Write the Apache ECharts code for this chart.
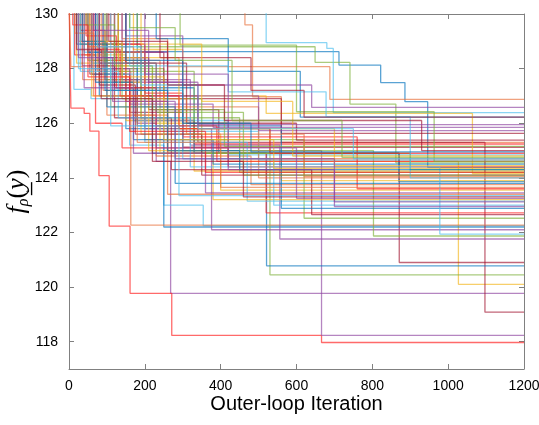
<!DOCTYPE html>
<html>
<head>
<meta charset="utf-8">
<script src="https://cdn.jsdelivr.net/npm/echarts@6/dist/echarts.min.js"></script>
<style>
  html, body { margin: 0; padding: 0; background: #fff; }
  #chart { width: 539px; height: 425px; }
</style>
</head>
<body>
<div id="chart"></div>
<script>
// Best objective value found so far, per restart, versus outer-loop iteration.
// Each run is a list of [iteration, value] change points; the value holds
// until the next change point. Values above 130 are off the top of the plot.

const xTicks = [0, 200, 400, 600, 800, 1000, 1200];
const yTicks = [118, 120, 122, 124, 126, 128, 130];

const redRuns = [
  [[0,130.6],[5,126.55],[40,126.36],[55,125.71],[79,124.08],[106,122.23],[161,119.77],[271,118.23],[666,117.97],[1200,117.97]],
  [[0,130.6],[30,129.4],[95,127.6],[180,126.1],[330,125.24],[1200,125.24]],
  [[0,130.6],[60,128.3],[150,126.8],[260,124.9],[520,122.72],[1200,122.72]],
  [[0,130.6],[15,128.5],[70,126.0],[140,125.1],[420,124.4],[1200,124.4]],
  [[0,130.6],[110,128.9],[200,127.1],[300,125.5],[760,123.6],[1200,123.6]],
  [[0,130.6],[45,129.2],[125,127.3],[230,125.9],[390,124.6],[1200,124.6]],
  [[0,130.6],[65,128.7],[135,127.0],[290,125.8],[530,124.9],[1200,124.9]],
  [[0,130.6],[10,129.6],[50,127.7],[160,125.7],[360,124.2],[1200,124.2]]
];

const darkRedRuns = [
  [[0,130.6],[90,128.4],[210,126.5],[395,124.9],[871,120.9],[1200,120.9]],
  [[0,130.6],[70,128.9],[190,127.0],[340,125.3],[1097,119.08],[1200,119.08]],
  [[0,130.6],[55,127.8],[160,126.4],[300,125.12],[1200,125.12]],
  [[0,130.6],[130,128.6],[250,126.9],[560,125.63],[1200,125.63]],
  [[0,130.6],[35,128.1],[120,126.2],[270,124.3],[640,122.65],[1200,122.65]],
  [[0,130.6],[80,127.4],[175,125.6],[350,124.1],[1200,124.1]],
  [[0,130.6],[150,128.2],[310,126.0],[600,125.38],[1200,125.38]],
  [[0,130.6],[240,128.4],[480,127.2],[620,126.22],[1200,126.22]],
  [[0,130.6],[105,129.0],[260,127.4],[410,126.1],[930,125.0],[1200,125.0]],
  [[0,130.6],[20,128.7],[85,126.9],[220,124.6],[460,123.3],[1200,123.3]]
];

const orangeRuns = [
  [[0,130.6],[140,129.1],[260,128.07],[688,126.87],[1200,126.87]],
  [[0,130.6],[464,129.6],[484,126.97],[560,125.3],[1200,125.3]],
  [[0,130.6],[5,128.07],[36,127.6],[100,126.3],[230,124.8],[480,123.75],[1200,123.75]],
  [[0,130.6],[75,127.9],[163,122.27],[1200,122.27]],
  [[0,130.6],[25,129.0],[90,127.2],[200,125.4],[420,124.7],[1200,124.7]],
  [[0,130.6],[120,128.3],[240,126.6],[500,124.0],[1200,124.0]],
  [[0,130.6],[50,128.8],[170,126.3],[260,123.4],[1200,123.4]],
  [[0,130.6],[85,128.6],[200,126.9],[310,125.6],[620,124.05],[1200,124.05]],
  [[0,130.6],[15,129.3],[65,127.0],[180,125.3],[400,123.65],[1200,123.65]]
];

const yellowRuns = [
  [[0,130.6],[100,128.1],[220,126.0],[420,124.6],[1027,120.1],[1200,120.1]],
  [[0,130.6],[40,128.5],[150,126.1],[330,124.25],[1200,124.25]],
  [[0,130.6],[80,127.5],[190,125.6],[400,123.55],[1200,123.55]],
  [[0,130.6],[170,128.7],[300,127.0],[520,126.36],[1064,124.16],[1200,124.16]],
  [[0,130.6],[20,128.2],[110,126.6],[240,124.9],[560,123.9],[1200,123.9]],
  [[0,130.6],[60,127.0],[210,125.0],[380,123.2],[1200,123.2]],
  [[0,130.6],[130,128.4],[290,125.8],[700,124.45],[1200,124.45]],
  [[0,130.6],[55,129.0],[140,127.7],[250,125.4],[540,124.35],[1200,124.35]],
  [[0,130.6],[190,128.9],[350,126.8],[590,124.8],[1200,124.8]]
];

const purpleRuns = [
  [[0,130.6],[90,128.0],[180,126.0],[230,124.6],[268,119.77],[1200,119.77]],
  [[0,130.6],[120,127.5],[300,125.0],[666,118.23],[1200,118.23]],
  [[0,130.6],[70,128.4],[200,125.8],[376,122.1],[1200,122.1]],
  [[0,130.6],[140,127.6],[320,125.2],[556,121.76],[1200,121.76]],
  [[0,130.6],[150,129.2],[300,127.4],[640,126.58],[1200,126.58]],
  [[0,130.6],[60,128.0],[160,126.7],[380,125.85],[1200,125.85]],
  [[0,130.6],[100,128.6],[260,127.0],[500,125.73],[1200,125.73]],
  [[0,130.6],[40,127.3],[170,124.9],[360,123.45],[1200,123.45]],
  [[0,130.6],[200,127.8],[420,124.3],[700,123.12],[1200,123.12]],
  [[0,130.6],[80,128.2],[230,125.1],[600,123.25],[1200,123.25]],
  [[0,130.6],[25,128.4],[115,126.8],[280,124.7],[700,122.95],[1200,122.95]],
  [[0,130.6],[65,129.4],[210,127.5],[340,125.95],[1200,125.95]]
];

const greenRuns = [
  [[0,130.6],[180,128.8],[649,128.23],[741,126.7],[862,124.55],[1200,124.55]],
  [[0,130.6],[80,128.0],[250,125.8],[530,120.45],[1200,120.45]],
  [[0,130.6],[100,127.6],[260,125.0],[803,121.87],[1200,121.87]],
  [[0,130.6],[50,128.3],[190,126.2],[450,124.2],[1200,124.2]],
  [[0,130.6],[130,127.9],[330,125.4],[620,122.52],[1200,122.52]],
  [[0,130.6],[30,128.9],[140,126.9],[350,124.9],[900,124.3],[1200,124.3]],
  [[0,130.6],[293,128.86],[600,126.42],[963,124.6],[1200,124.6]],
  [[0,130.6],[45,129.6],[120,128.1],[220,126.5],[410,125.15],[1200,125.15]],
  [[0,130.6],[95,128.2],[230,126.4],[460,124.1],[1200,124.1]],
  [[0,130.6],[160,129.5],[280,128.3],[430,126.1],[720,124.75],[1200,124.75]]
];

const lightBlueRuns = [
  [[0,130.6],[13,127.24],[58,126.9],[160,125.2],[250,123.0],[354,122.25],[1200,122.25]],
  [[0,130.6],[520,128.95],[680,128.74],[697,126.39],[1200,126.39]],
  [[0,130.6],[40,128.6],[170,126.1],[420,124.84],[1200,124.84]],
  [[0,130.6],[90,127.8],[240,125.7],[500,124.65],[1200,124.65]],
  [[0,130.6],[60,128.2],[200,125.3],[470,123.15],[1200,123.15]],
  [[0,130.6],[110,127.2],[300,124.7],[540,123.0],[1200,123.0]],
  [[0,130.6],[30,127.9],[130,126.2],[320,124.4],[978,121.94],[1200,121.94]],
  [[0,130.6],[160,128.1],[420,127.15],[678,126.24],[900,124.0],[1200,124.0]],
  [[0,130.6],[75,128.8],[190,127.4],[340,125.8],[750,124.7],[1200,124.7]],
  [[0,130.6],[25,128.0],[110,125.9],[290,123.35],[1200,123.35]]
];

const blueRuns = [
  [[0,130.6],[180,128.62],[712,128.13],[822,127.49],[886,126.79],[946,124.38],[1200,124.38]],
  [[0,130.6],[60,127.8],[150,125.8],[250,122.2],[1200,122.2]],
  [[0,130.6],[80,127.0],[220,124.9],[521,120.78],[1200,120.78]],
  [[0,130.6],[230,129.1],[420,127.9],[610,126.22],[1200,126.22]],
  [[0,130.6],[120,127.3],[330,124.9],[870,123.86],[1200,123.86]],
  [[0,130.6],[50,128.6],[180,125.9],[560,122.88],[1200,122.88]],
  [[0,130.6],[70,127.5],[170,125.4],[380,124.5],[1200,124.5]],
  [[0,130.6],[20,128.9],[100,126.6],[280,123.8],[1200,123.8]],
  [[0,130.6],[35,129.0],[95,127.2],[260,125.0],[450,124.3],[1200,124.3]],
  [[0,130.6],[150,128.3],[300,126.0],[480,124.95],[1200,124.95]]
];

const groups = [
  { runs: blueRuns, color: '#0072BD' },
  { runs: orangeRuns, color: '#E8703A' },
  { runs: yellowRuns, color: '#F2B51C' },
  { runs: purpleRuns, color: '#8E44A0' },
  { runs: greenRuns, color: '#7DB13A' },
  { runs: lightBlueRuns, color: '#4DBEEE' },
  { runs: darkRedRuns, color: '#A2142F' },
  { runs: redRuns, color: '#FF1A1A' }
];

// Interleave the colour groups so no single colour sits on top of the rest.
const series = [];
const maxLen = Math.max(...groups.map(g => g.runs.length));
for (let i = 0; i < maxLen; i++) {
  for (const g of groups) {
    if (i < g.runs.length) {
      series.push({
        type: 'line',
        step: 'end',
        data: g.runs[i],
        showSymbol: false,
        symbol: 'none',
        clip: true,
        silent: true,
        lineStyle: { color: g.color, width: 1.3, opacity: 0.65 }
      });
    }
  }
}

const axisColor = '#808080';
const labelFont = { fontFamily: 'Liberation Sans, Arial, sans-serif', fontSize: 14, color: '#000' };

const chart = echarts.init(document.getElementById('chart'), null, { renderer: 'canvas' });
chart.setOption({
  animation: false,
  backgroundColor: '#fff',
  grid: { left: 69, right: 15, top: 14, bottom: 56, containLabel: false, outerBoundsMode: 'none' },
  xAxis: [
    {
      type: 'value', min: 0, max: 1200, interval: 200,
      axisLine: { show: true, onZero: false, lineStyle: { color: axisColor, width: 1 } },
      axisTick: { show: true, inside: true, length: 5, lineStyle: { color: axisColor } },
      axisLabel: Object.assign({ margin: 10, formatter: v => String(v) }, labelFont),
      splitLine: { show: false },
      name: 'Outer-loop Iteration',
      nameLocation: 'middle',
      nameMoveOverlap: false,
      nameGap: 25,
      nameTextStyle: { fontFamily: 'Liberation Sans, Arial, sans-serif', fontSize: 20, color: '#000', verticalAlign: 'top' }
    },
    {
      type: 'value', min: 0, max: 1200, interval: 200, position: 'top',
      axisLine: { show: true, onZero: false, lineStyle: { color: axisColor, width: 1 } },
      axisTick: { show: true, inside: true, length: 5, lineStyle: { color: axisColor } },
      axisLabel: { show: false },
      splitLine: { show: false }
    }
  ],
  yAxis: [
    {
      type: 'value', min: 117, max: 130,
      axisLine: { show: true, onZero: false, lineStyle: { color: axisColor, width: 1 } },
      axisTick: { show: true, inside: true, length: 5, customValues: yTicks, lineStyle: { color: axisColor } },
      axisLabel: Object.assign({ margin: 11, customValues: yTicks, formatter: v => String(v) }, labelFont),
      splitLine: { show: false },
      name: '{f|f}{s|ρ}{p|(}{y|y̲}{p|)}',
      nameLocation: 'middle',
      nameRotate: 90,
      nameMoveOverlap: false,
      nameGap: 37,
      nameTextStyle: {
        verticalAlign: 'bottom',
        rich: {
          f: { fontFamily: 'Liberation Serif, serif', fontStyle: 'italic', fontSize: 26, lineHeight: 30, verticalAlign: 'middle', color: '#000' },
          s: { fontFamily: 'Liberation Serif, serif', fontStyle: 'italic', fontSize: 16, lineHeight: 22, verticalAlign: 'bottom', color: '#000' },
          p: { fontFamily: 'Liberation Serif, serif', fontSize: 26, lineHeight: 30, verticalAlign: 'middle', color: '#000' },
          y: { fontFamily: 'Liberation Serif, serif', fontStyle: 'italic', fontSize: 26, lineHeight: 30, verticalAlign: 'middle', color: '#000' }
        }
      }
    },
    {
      type: 'value', min: 117, max: 130, position: 'right',
      axisLine: { show: true, onZero: false, lineStyle: { color: axisColor, width: 1 } },
      axisTick: { show: true, inside: true, length: 5, customValues: yTicks, lineStyle: { color: axisColor } },
      axisLabel: { show: false },
      splitLine: { show: false }
    }
  ],
  series: series
});
</script>
</body>
</html>
